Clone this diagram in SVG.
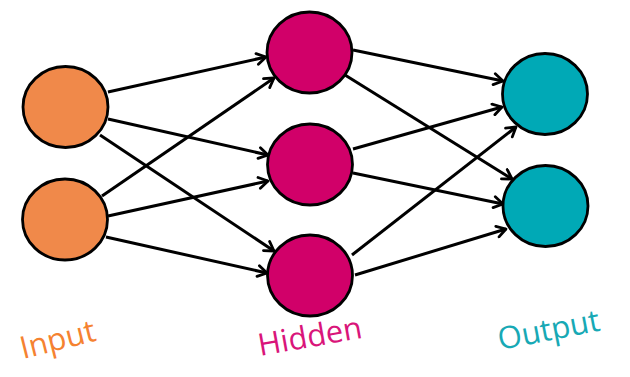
<svg xmlns="http://www.w3.org/2000/svg" width="630" height="377" viewBox="0 0 630 377">
<style>
.node{stroke:#000;stroke-width:2.8}
.in{fill:#F0894A}
.hid{fill:#D10069}
.out{fill:#00A9B6}
.edge{stroke:#000;stroke-width:3;fill:none;marker-end:url(#arr)}
.lbl{font-family:"Open Sans","Noto Sans",sans-serif;font-size:31px}
</style>
<defs>
<marker id="arr" markerUnits="userSpaceOnUse" markerWidth="14" markerHeight="14" refX="11" refY="7" orient="auto">
<path d="M2,1.5 L11,7 L2,12.5" fill="none" stroke="#000" stroke-width="2.8" stroke-linecap="round" stroke-linejoin="round"/>
</marker>
</defs>
<rect width="630" height="377" fill="#fff"/>
<g id="connectors">
<line class="edge" x1="108" y1="92" x2="266" y2="57"/>
<line class="edge" x1="108" y1="119" x2="268" y2="155"/>
<line class="edge" x1="100" y1="135" x2="274" y2="251"/>
<line class="edge" x1="102" y1="196" x2="274" y2="78"/>
<line class="edge" x1="108" y1="216" x2="268" y2="181"/>
<line class="edge" x1="106" y1="237" x2="267" y2="273"/>
<line class="edge" x1="353" y1="50" x2="503" y2="81"/>
<line class="edge" x1="345" y1="75" x2="512" y2="179"/>
<line class="edge" x1="353" y1="149" x2="502" y2="107"/>
<line class="edge" x1="353" y1="173" x2="503" y2="204"/>
<line class="edge" x1="352" y1="255" x2="516" y2="127"/>
<line class="edge" x1="355" y1="275" x2="506" y2="229"/>
</g>
<g id="input1"><ellipse class="node in" cx="65.5" cy="107" rx="42.5" ry="40.5"/></g>
<g id="input2"><ellipse class="node in" cx="65" cy="219.5" rx="42.5" ry="40.5"/></g>
<g id="hidden1"><ellipse class="node hid" cx="309.5" cy="52.5" rx="42.5" ry="40.5"/></g>
<g id="hidden2"><ellipse class="node hid" cx="310" cy="164.5" rx="42.5" ry="40.5"/></g>
<g id="hidden3"><ellipse class="node hid" cx="310" cy="275.5" rx="42.5" ry="40.5"/></g>
<g id="output1"><ellipse class="node out" cx="545" cy="94" rx="42.5" ry="40.5"/></g>
<g id="output2"><ellipse class="node out" cx="545.5" cy="206" rx="42.5" ry="40.5"/></g>
<g id="labels">
<text class="lbl" fill="#F58231" transform="translate(23,359) rotate(-14)">Input</text>
<text class="lbl" fill="#D9157A" transform="translate(260,356) rotate(-10)">Hidden</text>
<text class="lbl" fill="#17A9B5" transform="translate(500,350) rotate(-11)">Output</text>
</g>
</svg>
